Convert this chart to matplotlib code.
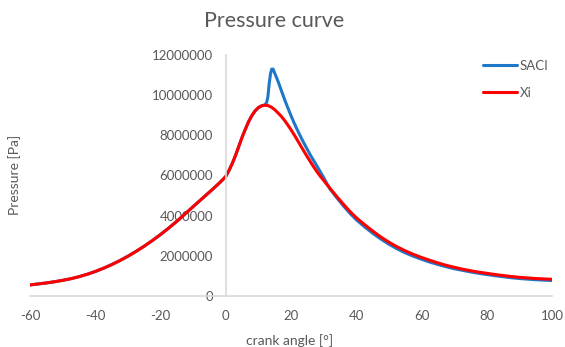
import matplotlib
matplotlib.use("Agg")
import matplotlib.pyplot as plt

plt.rcParams['font.family'] = ['Lato', 'DejaVu Sans']

# Xi series (red), pressure in MPa-equivalent millions of Pa
xi_angle = [-60, -57.5, -55, -52.5, -50, -47.5, -45, -42.5, -40, -37.5, -35, -32.5, -30, -27.5,
            -25, -22.5, -20, -17.5, -15, -12.5, -10, -8, -6, -4, -2, -1, 0,
            1, 2, 3, 4, 5, 6, 7, 8, 9, 10, 11, 12, 13, 14, 15, 16, 17, 18, 19, 20,
            21, 22, 23, 24, 25, 26, 27, 28, 29, 30, 31, 32, 34, 36, 38, 40,
            42.5, 45, 47.5, 50, 52.5, 55, 57.5, 60, 62.5, 65, 67.5, 70, 72.5, 75,
            77.5, 80, 82.5, 85, 87.5, 90, 92.5, 95, 97.5, 100]
xi_p = [0.55, 0.60, 0.65, 0.71, 0.78, 0.86, 0.96, 1.08, 1.22, 1.38, 1.56, 1.76, 1.98, 2.22,
        2.48, 2.76, 3.06, 3.38, 3.72, 4.08, 4.45, 4.74, 5.03, 5.32, 5.62, 5.78, 5.95,
        6.25, 6.60, 7.00, 7.45, 7.90, 8.30, 8.68, 8.98, 9.22, 9.38, 9.47, 9.50, 9.48, 9.40, 9.28, 9.12, 8.95, 8.75, 8.52, 8.28,
        8.02, 7.75, 7.47, 7.20, 6.93, 6.67, 6.42, 6.18, 5.96, 5.76, 5.55, 5.35, 4.96, 4.58, 4.22, 3.90,
        3.56, 3.24, 2.94, 2.68, 2.45, 2.25, 2.07, 1.92, 1.78, 1.65, 1.53, 1.43, 1.34, 1.26,
        1.19, 1.13, 1.07, 1.02, 0.97, 0.93, 0.90, 0.87, 0.85, 0.83]

# SACI series (blue)
saci_angle = [-60, -57.5, -55, -52.5, -50, -47.5, -45, -42.5, -40, -37.5, -35, -32.5, -30, -27.5,
              -25, -22.5, -20, -17.5, -15, -12.5, -10, -8, -6, -4, -2, -1, 0,
              1, 2, 3, 4, 5, 6, 7, 8, 9, 10, 11, 12, 12.5, 12.9, 13.3, 13.7, 14.1, 14.5, 15,
              16, 17, 18, 19, 20, 21, 22, 23, 24, 25, 26, 27, 28, 29, 30, 31, 32, 34, 36, 38, 40,
              42.5, 45, 47.5, 50, 52.5, 55, 57.5, 60, 62.5, 65, 67.5, 70, 72.5, 75,
              77.5, 80, 82.5, 85, 87.5, 90, 92.5, 95, 97.5, 100]
saci_p = [0.55, 0.60, 0.65, 0.71, 0.78, 0.86, 0.96, 1.08, 1.22, 1.38, 1.56, 1.76, 1.98, 2.22,
          2.48, 2.76, 3.06, 3.38, 3.72, 4.08, 4.45, 4.74, 5.03, 5.32, 5.62, 5.78, 5.95,
          6.25, 6.60, 7.00, 7.45, 7.90, 8.30, 8.68, 8.98, 9.22, 9.38, 9.47, 9.52, 9.62, 9.90, 10.55, 11.05, 11.30, 11.30, 11.10,
          10.70, 10.25, 9.80, 9.38, 8.98, 8.60, 8.25, 7.92, 7.60, 7.30, 7.00, 6.73, 6.46, 6.18, 5.90, 5.60, 5.32, 4.90, 4.50, 4.13, 3.80,
          3.45, 3.13, 2.84, 2.58, 2.35, 2.15, 1.98, 1.83, 1.69, 1.57, 1.46, 1.36, 1.28, 1.20,
          1.13, 1.07, 1.01, 0.96, 0.91, 0.87, 0.84, 0.81, 0.79, 0.77]

x_ticks = [-60, -40, -20, 0, 20, 40, 60, 80, 100]
y_ticks = [0, 2000000, 4000000, 6000000, 8000000, 10000000, 12000000]

W, H = 565, 347
fig = plt.figure(figsize=(W / 100, H / 100), dpi=100)
ax = fig.add_axes([30 / W, 51 / H, 522 / W, 241 / H])

gray = '#595959'
axcol = '#d9d9d9'

ax.plot(saci_angle, [v * 1e6 for v in saci_p], color='#1f77c8', lw=2.2, label='SACI',
        solid_joinstyle='round', solid_capstyle='round')
ax.plot(xi_angle, [v * 1e6 for v in xi_p], color='#ff0000', lw=2.2, label='Xi',
        solid_joinstyle='round', solid_capstyle='round')

ax.set_xlim(-60, 100)
ax.set_ylim(0, 12000000)
ax.set_xticks(x_ticks)
ax.set_yticks(y_ticks)
ax.set_xticklabels([str(t) for t in x_ticks])
ax.set_yticklabels([str(t) for t in y_ticks])

ax.spines['top'].set_visible(False)
ax.spines['right'].set_visible(False)
ax.spines['left'].set_position(('data', 0))
for s in ('left', 'bottom'):
    ax.spines[s].set_color(axcol)
    ax.spines[s].set_linewidth(1.2)
ax.tick_params(axis='both', length=0, colors=gray, labelsize=9.5)
ax.tick_params(axis='y', pad=9)
ax.tick_params(axis='x', pad=10)
ax.patch.set_visible(False)

fig.text(274 / W, 1 - 27 / H, 'Pressure curve', ha='center', va='baseline', fontsize=15.5, color=gray)
fig.text(15 / W, 1 - 175 / H, 'Pressure [Pa]', ha='center', va='center', rotation=90, fontsize=10, color=gray)
fig.text(290 / W, 1 - 341 / H, 'crank angle [°]', ha='center', va='center', fontsize=10, color=gray)

leg = ax.legend(loc='upper left', bbox_to_anchor=(483 / W, 1 - 60 / H), bbox_transform=fig.transFigure,
                frameon=False, fontsize=9.5, handlelength=2.6, handletextpad=0.2, labelspacing=1.1,
                borderaxespad=0, borderpad=0)
for t in leg.get_texts():
    t.set_color(gray)

fig.savefig('out.png', dpi=100)
